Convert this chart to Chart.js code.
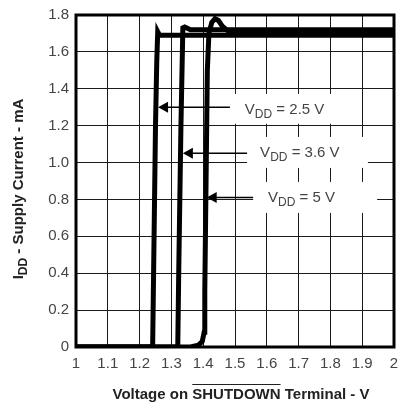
<!DOCTYPE html>
<html>
<head>
<meta charset="utf-8">
<script src="https://cdn.jsdelivr.net/npm/chart.js@4.4.0/dist/chart.umd.min.js"></script>
<style>
  body { margin: 0; background: #fff; }
  canvas { display: block; }
</style>
</head>
<body>
<canvas id="shutdown_chart" width="401" height="407"></canvas>
<script>
// tick values and labels
const x_ticks = [1, 1.1, 1.2, 1.3, 1.4, 1.5, 1.6, 1.7, 1.8, 1.9, 2];
const x_tick_labels = ["1", "1.1", "1.2", "1.3", "1.4", "1.5", "1.6", "1.7", "1.8", "1.9", "2"];
const y_ticks = [0, 0.2, 0.4, 0.6, 0.8, 1.0, 1.2, 1.4, 1.6, 1.8];
const y_tick_labels = ["0", "0.2", "0.4", "0.6", "0.8", "1.0", "1.2", "1.4", "1.6", "1.8"];

// VDD = 2.5 V
const vdd25_x = [1.0, 1.241, 1.244, 1.250, 1.254, 1.257, 1.263, 2.0];
const vdd25_y = [0, 0, 0.40, 1.20, 1.55, 1.71, 1.69, 1.69];
// VDD = 3.6 V
const vdd36_x = [1.0, 1.320, 1.323, 1.330, 1.336, 1.342, 1.36, 2.0];
const vdd36_y = [0, 0, 0.40, 1.20, 1.73, 1.735, 1.72, 1.72];
// VDD = 5 V
const vdd5_x = [1.0, 1.36, 1.385, 1.397, 1.403, 1.405, 1.409, 1.413, 1.418, 1.427, 1.437, 1.448, 1.46, 1.48, 2.0];
const vdd5_y = [0, 0, 0.01, 0.03, 0.08, 0.30, 0.90, 1.50, 1.70, 1.76, 1.78, 1.77, 1.74, 1.71, 1.70];

const series_labels = ["2.5", "3.6", "5"];

function to_points(xs, ys)
{
    return xs.map((x, i) => ({ x: x, y: ys[i] }));
}

// callout placement in data units
const callouts =
[
    { text: series_labels[0], tip_x: 1.258, arrow_y: 1.30, box: [1.484, 1.868, 1.372, 1.210], text_x: 1.531, base_y: 1.263 },
    { text: series_labels[1], tip_x: 1.336, arrow_y: 1.05, box: [1.538, 1.918, 1.139, 0.971], text_x: 1.579, base_y: 1.030 },
    { text: series_labels[2], tip_x: 1.411, arrow_y: 0.81, box: [1.557, 1.947, 0.895, 0.727], text_x: 1.604, base_y: 0.785 }
];

const callout_plugin =
{
    id: "callouts",
    beforeDatasetsDraw(chart)
    {
        const ctx = chart.ctx;
        const xs = chart.scales.x;
        const ys = chart.scales.y;
        ctx.save();
        callouts.forEach(c =>
        {
            const l = xs.getPixelForValue(c.box[0]);
            const r = xs.getPixelForValue(c.box[1]);
            const t = ys.getPixelForValue(c.box[2]);
            const b = ys.getPixelForValue(c.box[3]);
            ctx.fillStyle = "#fff";
            ctx.fillRect(l, t, r - l, b - t);

            let tx = xs.getPixelForValue(c.text_x);
            const by = ys.getPixelForValue(c.base_y);
            ctx.fillStyle = "#444";
            ctx.textBaseline = "alphabetic";
            ctx.textAlign = "left";
            ctx.font = "15px 'Liberation Sans', Arial, sans-serif";
            ctx.fillText("V", tx, by);
            tx += ctx.measureText("V").width;
            ctx.font = "12px 'Liberation Sans', Arial, sans-serif";
            ctx.fillText("DD", tx, by + 4);
            tx += ctx.measureText("DD").width;
            ctx.font = "15px 'Liberation Sans', Arial, sans-serif";
            ctx.fillText(" = " + c.text + " V", tx, by);

            // leader line and arrow head
            const ay = ys.getPixelForValue(c.arrow_y);
            const tip = xs.getPixelForValue(c.tip_x);
            ctx.strokeStyle = "#000";
            ctx.lineWidth = 1.5;
            ctx.beginPath();
            ctx.moveTo(tip + 8, ay);
            ctx.lineTo(l, ay);
            ctx.stroke();
            ctx.fillStyle = "#000";
            ctx.beginPath();
            ctx.moveTo(tip, ay);
            ctx.lineTo(tip + 10, ay - 5.5);
            ctx.lineTo(tip + 10, ay + 5.5);
            ctx.closePath();
            ctx.fill();
        });
        // thick frame
        const a = chart.chartArea;
        ctx.strokeStyle = "#000";
        ctx.lineWidth = 3;
        ctx.strokeRect(a.left, a.top, a.right - a.left, a.bottom - a.top);
        ctx.restore();
    }
};

const title_plugin =
{
    id: "axis_titles",
    afterDraw(chart)
    {
        const ctx = chart.ctx;
        ctx.save();
        ctx.fillStyle = "#222";
        ctx.strokeStyle = "#222";
        ctx.textBaseline = "alphabetic";
        ctx.textAlign = "left";
        const bold = "bold 15px 'Liberation Sans', Arial, sans-serif";
        const bold_small = "bold 12px 'Liberation Sans', Arial, sans-serif";

        // x title with overline on SHUTDOWN
        ctx.font = bold;
        const p1 = "Voltage on ", p2 = "SHUTDOWN", p3 = " Terminal - V";
        const w1 = ctx.measureText(p1).width, w2 = ctx.measureText(p2).width, w3 = ctx.measureText(p3).width;
        let x = 241 - (w1 + w2 + w3) / 2;
        const y = 399;
        ctx.fillText(p1, x, y);
        ctx.fillText(p2, x + w1, y);
        ctx.fillText(p3, x + w1 + w2, y);
        ctx.lineWidth = 1;
        ctx.beginPath();
        ctx.moveTo(x + w1, 384.5);
        ctx.lineTo(x + w1 + w2, 384.5);
        ctx.stroke();

        // y title, rotated, with subscript DD
        ctx.translate(23, 189);
        ctx.rotate(-Math.PI / 2);
        const q1 = "I", q2 = "DD", q3 = " - Supply Current - mA";
        ctx.font = bold;
        const v1 = ctx.measureText(q1).width, v3 = ctx.measureText(q3).width;
        ctx.font = bold_small;
        const v2 = ctx.measureText(q2).width;
        let sx = -(v1 + v2 + v3) / 2;
        ctx.font = bold;
        ctx.fillText(q1, sx, 0);
        ctx.font = bold_small;
        ctx.fillText(q2, sx + v1, 4);
        ctx.font = bold;
        ctx.fillText(q3, sx + v1 + v2, 0);
        ctx.restore();
    }
};

const line_style =
{
    borderColor: "#000",
    backgroundColor: "#000",
    borderWidth: 5,
    pointRadius: 0,
    fill: false,
    tension: 0
};

const shutdown_chart = new Chart("shutdown_chart",
{
    type: "line",
    data:
    {
        datasets:
        [
            { label: series_labels[0], data: to_points(vdd25_x, vdd25_y), ...line_style },
            { label: series_labels[1], data: to_points(vdd36_x, vdd36_y), ...line_style },
            { label: series_labels[2], data: to_points(vdd5_x, vdd5_y), ...line_style }
        ]
    },
    plugins: [callout_plugin, title_plugin],
    options:
    {
        responsive: false,
        animation: false,
        devicePixelRatio: 1,
        layout: { padding: { left: 0, top: 15, right: 7, bottom: 0 } },
        plugins:
        {
            legend: { display: false },
            tooltip: { enabled: false }
        },
        scales:
        {
            x:
            {
                type: "linear",
                min: 1,
                max: 2,
                afterBuildTicks: scale => { scale.ticks = x_ticks.map(v => ({ value: v })); },
                afterFit: scale => { scale.height = 60; scale.paddingLeft = 0; scale.paddingRight = 0; },
                ticks:
                {
                    autoSkip: false,
                    maxRotation: 0,
                    padding: 8,
                    color: "#444",
                    font: { family: "'Liberation Sans', Arial, sans-serif", size: 15 },
                    callback: (value, index) => x_tick_labels[index]
                },
                grid: { color: "#1a1a1a", lineWidth: 1, drawTicks: false },
                border: { display: false }
            },
            y:
            {
                min: 0,
                max: 1.8,
                afterBuildTicks: scale => { scale.ticks = y_ticks.map(v => ({ value: v })); },
                afterFit: scale => { scale.width = 76; scale.paddingTop = 0; scale.paddingBottom = 0; },
                ticks:
                {
                    autoSkip: false,
                    padding: 7,
                    color: "#444",
                    font: { family: "'Liberation Sans', Arial, sans-serif", size: 15 },
                    callback: (value, index) => y_tick_labels[index]
                },
                grid: { color: "#1a1a1a", lineWidth: 1, drawTicks: false },
                border: { display: false }
            }
        }
    }
});
</script>
</body>
</html>
